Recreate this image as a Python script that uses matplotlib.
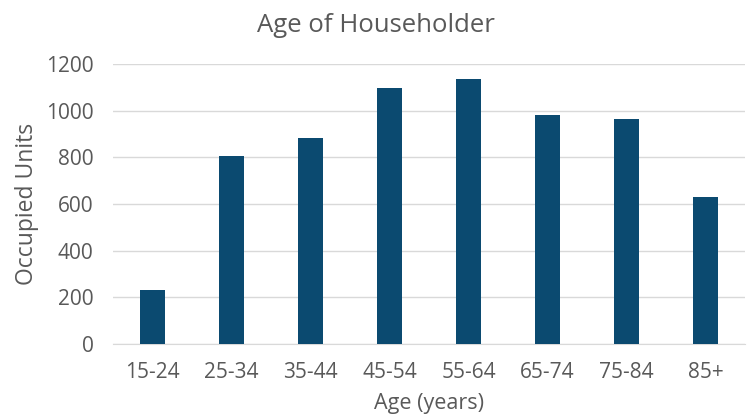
import matplotlib
matplotlib.use("Agg")
import matplotlib.pyplot as plt

categories = ["15-24", "25-34", "35-44", "45-54", "55-64", "65-74", "75-84", "85+"]
occupied_units = [230, 807, 885, 1098, 1134, 980, 964, 629]
y_ticks = [0, 200, 400, 600, 800, 1000, 1200]

plt.rcParams['font.family'] = ['Open Sans', 'DejaVu Sans']
text_color = "#595959"

fig = plt.figure(figsize=(7.52, 4.15), dpi=100)
ax = fig.add_axes([113/752, 1-344/415, (745-113)/752, (344-64)/415])

x = list(range(len(categories)))
ax.bar(x, occupied_units, width=0.31, color="#0B4A70", zorder=3)

ax.set_ylim(0, 1200)
ax.set_xlim(-0.5, len(categories)-0.5)
ax.set_yticks(y_ticks)
ax.set_yticklabels([str(v) for v in y_ticks])
ax.set_xticks(x)
ax.set_xticklabels(categories)
ax.yaxis.grid(True, color="#D9D9D9", linewidth=1.0, zorder=0)
ax.set_axisbelow(True)
for s in ["top", "right", "left"]:
    ax.spines[s].set_visible(False)
ax.spines["bottom"].set_color("#D9D9D9")
ax.tick_params(axis="both", length=0, colors=text_color, labelsize=15)
ax.tick_params(axis="y", pad=14)
ax.tick_params(axis="x", pad=13)

fig.text(0.5, 1-25/415, "Age of Householder", fontsize=18.5, color=text_color,
         ha="center", va="center")
ax.set_xlabel("Age (years)", fontsize=15.5, color=text_color)
ax.xaxis.set_label_coords(0.5, (344-403)/280, transform=ax.transAxes)
ax.xaxis.label.set_va("center")
ax.set_ylabel("Occupied Units", fontsize=16.5, color=text_color)
ax.yaxis.set_label_coords((27-113)/632, 0.5, transform=ax.transAxes)
ax.yaxis.label.set_va("center")

fig.savefig("out.png", dpi=100)
